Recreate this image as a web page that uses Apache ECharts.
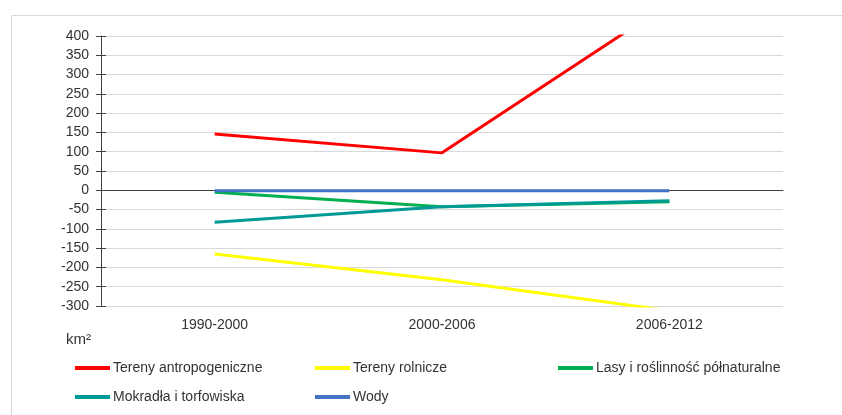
<!DOCTYPE html>
<html><head><meta charset="utf-8">
<script src="https://cdn.jsdelivr.net/npm/echarts@6/dist/echarts.min.js"></script>
<style>html,body{margin:0;padding:0;background:#fff}#c{width:842px;height:415px}</style>
</head><body><div id="c"></div>
<script>
const categories = ['1990-2000', '2000-2006', '2006-2012'];
const yTicks = [-300, 400, 50];
const seriesNames = ['Tereny antropogeniczne', 'Tereny rolnicze', 'Lasy i roślinność półnaturalne', 'Mokradła i torfowiska', 'Wody'];
const antropogeniczne = [146, 97, 485];
const rolnicze = [-165, -232, -312];
const lasy = [-5, -43, -30];
const mokradla = [-83, -43, -27];
const wody = [-1, -1, -1];
const unitLabel = 'km²';

const colors = ['#ff0000', '#ffff00', '#00b050', '#009a96', '#4472c4'];
const values = [antropogeniczne, rolnicze, lasy, mokradla, wody];
const font = 'Liberation Sans';
const txt = '#333333';

const chart = echarts.init(document.getElementById('c'), null, {renderer: 'canvas'});
const legendText = {color: txt, fontSize: 14, fontFamily: font, padding: [0,0,0,-2]};
chart.setOption({
  animation: false,
  backgroundColor: '#fff',
  textStyle: {fontFamily: font},
  grid: {left: 101, right: 59, top: 36, bottom: 109},
  xAxis: [{
    type: 'category', data: categories, boundaryGap: true,
    axisLine: {show: false, onZero: false}, axisTick: {show: false},
    axisLabel: {color: txt, fontSize: 14, fontFamily: font, margin: 12},
    splitLine: {show: false}
  }, {
    type: 'category', data: categories, position: 'top',
    axisLine: {show: true, onZero: true, lineStyle: {color: '#404040', width: 1}},
    axisTick: {show: false}, axisLabel: {show: false}, splitLine: {show: false}
  }],
  yAxis: [{
    type: 'value', min: yTicks[0], max: yTicks[1], interval: yTicks[2],
    axisLine: {show: true, lineStyle: {color: '#404040'}},
    axisTick: {show: true, length: 5, lineStyle: {color: '#404040'}},
    axisLabel: {color: txt, fontSize: 14, fontFamily: font, margin: 12},
    splitLine: {show: true, lineStyle: {color: '#d9d9d9', width: 1}}
  }, {
    type: 'value', min: yTicks[0], max: yTicks[1], interval: yTicks[2], position: 'left',
    axisLine: {show: false}, axisTick: {show: true, inside: true, length: 5, lineStyle: {color: '#404040'}},
    axisLabel: {show: false}, splitLine: {show: false}
  }],
  legend: [
    {left: 70, top: 356, orient: 'vertical', itemGap: 15, itemWidth: 35, itemHeight: 4, icon: 'rect',
     data: [seriesNames[0], seriesNames[3]], textStyle: legendText},
    {left: 310, top: 356, orient: 'vertical', itemGap: 15, itemWidth: 35, itemHeight: 4, icon: 'rect',
     data: [seriesNames[1], seriesNames[4]], textStyle: legendText},
    {left: 553, top: 356, orient: 'vertical', itemWidth: 35, itemHeight: 4, icon: 'rect',
     data: [seriesNames[2]], textStyle: legendText}
  ],
  graphic: [
    {type: 'rect', shape: {x: 11.5, y: 15.5, width: 900, height: 500}, style: {fill: 'none', stroke: '#d9d9d9', lineWidth: 1}, z: -1},
    {type: 'text', left: 66, top: 332, style: {text: unitLabel, fill: txt, font: '15px ' + font}}
  ],
  series: seriesNames.map((n, i) => ({
    name: n, type: 'line', data: values[i], symbol: 'none', clip: true,
    itemStyle: {color: colors[i]},
    lineStyle: {color: colors[i], width: 3}
  }))
});
</script></body></html>
